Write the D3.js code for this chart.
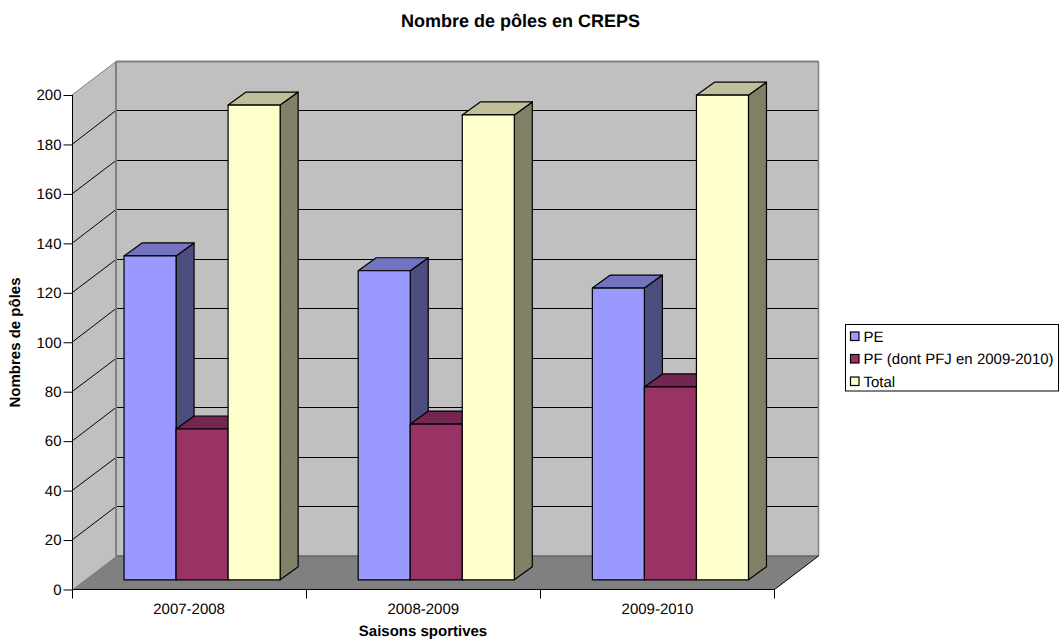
<!DOCTYPE html>
<html>
<head>
<meta charset="utf-8">
<script src="https://cdn.jsdelivr.net/npm/d3@7/dist/d3.min.js"></script>
<style>
html,body{margin:0;padding:0;background:#fff;overflow:hidden}
svg{display:block}
text{font-family:"Liberation Sans",Arial,sans-serif;fill:#000;text-rendering:geometricPrecision}
</style>
</head>
<body>
<svg id="chart" width="1059" height="639"></svg>
<script>
const seasons = ["2007-2008", "2008-2009", "2009-2010"];
const seriesNames = ["PE", "PF (dont PFJ en 2009-2010)", "Total"];
const peValues = [131, 125, 118];
const pfValues = [61, 63, 78];
const totalValues = [192, 188, 196];
const yTicks = [0, 20, 40, 60, 80, 100, 120, 140, 160, 180, 200];
const faceColors = ["#9999ff", "#993366", "#ffffcc"];
const sideColors = ["#4d4d80", "#4d1a33", "#808066"];
const topColors = ["#7373bf", "#732650", "#bfbf99"];

const allValues = [peValues, pfValues, totalValues];
const svg = d3.select("#chart");

// Front plane of the 3D box and the depth vectors of the projection
const x = d3.scaleBand().domain(seasons).range([72, 774.5]).paddingInner(0).paddingOuter(0);
const y = d3.scaleLinear().domain([0, 200]).range([589.5, 95]);
const wall = {dx: 44, dy: -33.5};
const barShift = {dx: 13, dy: -9.7};
const barDepth = {dx: 18, dy: -13};
const series = d3.scaleBand().domain(d3.range(3)).paddingInner(0).paddingOuter(0.75)
  .range([0, x.bandwidth()]);

const poly = pts => pts.map(p => p.join(",")).join(" ");
const xL = x.range()[0], xR = x.range()[1], yT = y(200), yB = y(0);

// Left wall, back wall and floor
svg.append("polygon")
  .attr("points", poly([[xL, yT], [xL + wall.dx, yT + wall.dy], [xL + wall.dx, yB + wall.dy], [xL, yB]]))
  .attr("fill", "#c0c0c0");
svg.append("polygon")
  .attr("points", poly([[xL, yB], [xL + wall.dx, yB + wall.dy], [xR + wall.dx, yB + wall.dy], [xR, yB]]))
  .attr("fill", "#808080");
svg.append("rect")
  .attr("x", xL + wall.dx).attr("y", yT + wall.dy)
  .attr("width", xR - xL).attr("height", yB - yT)
  .attr("fill", "#c0c0c0");

// Gridlines run along the left wall then across the back wall
const grid = svg.append("g").attr("fill", "none").attr("stroke", "#000").attr("stroke-width", 1);
yTicks.filter(t => t > 0 && t < 200).forEach(t => {
  const back = Math.floor(y(t) + wall.dy) + 0.5;
  grid.append("polyline")
    .attr("points", poly([[xL, y(t)], [xL + wall.dx, back], [xR + wall.dx, back]]));
});

// Grey outlines of the walls
svg.append("path")
  .attr("fill", "none").attr("stroke", "#808080").attr("stroke-width", 1)
  .attr("d", `M${xL},${yT}L${xL + wall.dx},${yT + wall.dy}`);
svg.append("path")
  .attr("fill", "none").attr("stroke", "#808080").attr("stroke-width", 2)
  .attr("d", `M${xL + wall.dx},${yT + wall.dy}L${xR + wall.dx},${yT + wall.dy}`);
svg.append("path")
  .attr("fill", "none").attr("stroke", "#808080").attr("stroke-width", 1.5)
  .attr("d", `M${xR + wall.dx},${yT + wall.dy}V${yB + wall.dy}`);
svg.append("path")
  .attr("fill", "none").attr("stroke", "#808080").attr("stroke-width", 2)
  .attr("d", `M${xL + wall.dx},${yT + wall.dy}V${yB + wall.dy}`);
svg.append("path")
  .attr("fill", "none").attr("stroke", "#666").attr("stroke-width", 1.5)
  .attr("d", `M${xL + wall.dx},${yB + wall.dy}H${xR + wall.dx}`);
svg.append("path")
  .attr("fill", "none").attr("stroke", "#000").attr("stroke-width", 1)
  .attr("d", `M${xR},${yB}L${xR + wall.dx},${yB + wall.dy}`);

// Bars: each one has a side, a top and a front face
const bars = svg.append("g").attr("stroke", "#000").attr("stroke-width", 1.2).attr("stroke-linejoin", "round");
seasons.forEach((season, i) => {
  allValues.forEach((vals, s) => {
    const x0 = x(season) + series(s) + barShift.dx;
    const x1 = x0 + series.bandwidth();
    const y0 = y(vals[i]) + barShift.dy;
    const yb = y(0) + barShift.dy;
    bars.append("polygon").attr("fill", sideColors[s])
      .attr("points", poly([[x1, y0], [x1 + barDepth.dx, y0 + barDepth.dy], [x1 + barDepth.dx, yb + barDepth.dy], [x1, yb]]));
    bars.append("polygon").attr("fill", topColors[s])
      .attr("points", poly([[x0, y0], [x0 + barDepth.dx, y0 + barDepth.dy], [x1 + barDepth.dx, y0 + barDepth.dy], [x1, y0]]));
    bars.append("rect").attr("fill", faceColors[s])
      .attr("x", x0).attr("y", y0).attr("width", x1 - x0).attr("height", yb - y0);
  });
});

// Value axis
const yAxis = svg.append("g").attr("transform", `translate(${xL + 0.5},0)`)
  .call(d3.axisLeft(y).tickValues(yTicks).tickSize(9).tickPadding(2));
yAxis.selectAll("text").attr("font-size", 15);
yAxis.selectAll("line,path").attr("stroke", "#000");
yAxis.select(".domain").attr("d", `M0,${yT}V${yB}`);

// Category axis: labels centred in each band, ticks on the band edges
const xAxis = svg.append("g").attr("transform", `translate(0,${Math.floor(yB) + 0.5})`)
  .call(d3.axisBottom(x).tickSize(0).tickPadding(14));
xAxis.selectAll("text").attr("font-size", 15);
xAxis.select(".domain").attr("d", `M${xL},0H${xR}`).attr("stroke", "#000");
xAxis.selectAll(".edge").data(seasons.concat("end")).enter().append("line")
  .attr("class", "edge")
  .attr("x1", d => Math.floor(d === "end" ? xR : x(d)) + 0.5)
  .attr("x2", d => Math.floor(d === "end" ? xR : x(d)) + 0.5)
  .attr("y1", 0).attr("y2", 9).attr("stroke", "#000");

// Titles
svg.append("text").attr("x", 520.5).attr("y", 27).attr("text-anchor", "middle")
  .attr("font-size", 18).attr("font-weight", "bold").text("Nombre de pôles en CREPS");
svg.append("text").attr("x", 423).attr("y", 636).attr("text-anchor", "middle")
  .attr("font-size", 15).attr("font-weight", "bold").text("Saisons sportives");
svg.append("text").attr("transform", "translate(20,342.5) rotate(-90)").attr("text-anchor", "middle")
  .attr("font-size", 15).attr("font-weight", "bold").text("Nombres de pôles");

// Legend
const legend = svg.append("g").attr("transform", "translate(845.5,324.5)");
legend.append("rect").attr("width", 213).attr("height", 66.5)
  .attr("fill", "#fff").attr("stroke", "#000");
seriesNames.forEach((name, i) => {
  const row = legend.append("g").attr("transform", `translate(0,${i * 22.5})`);
  row.append("rect").attr("x", 5).attr("y", 7.5).attr("width", 8.5).attr("height", 8.5)
    .attr("fill", faceColors[i]).attr("stroke", "#000").attr("stroke-width", 1.2);
  row.append("text").attr("x", 18).attr("y", 17).attr("font-size", 15).text(name);
});
</script>
</body>
</html>
